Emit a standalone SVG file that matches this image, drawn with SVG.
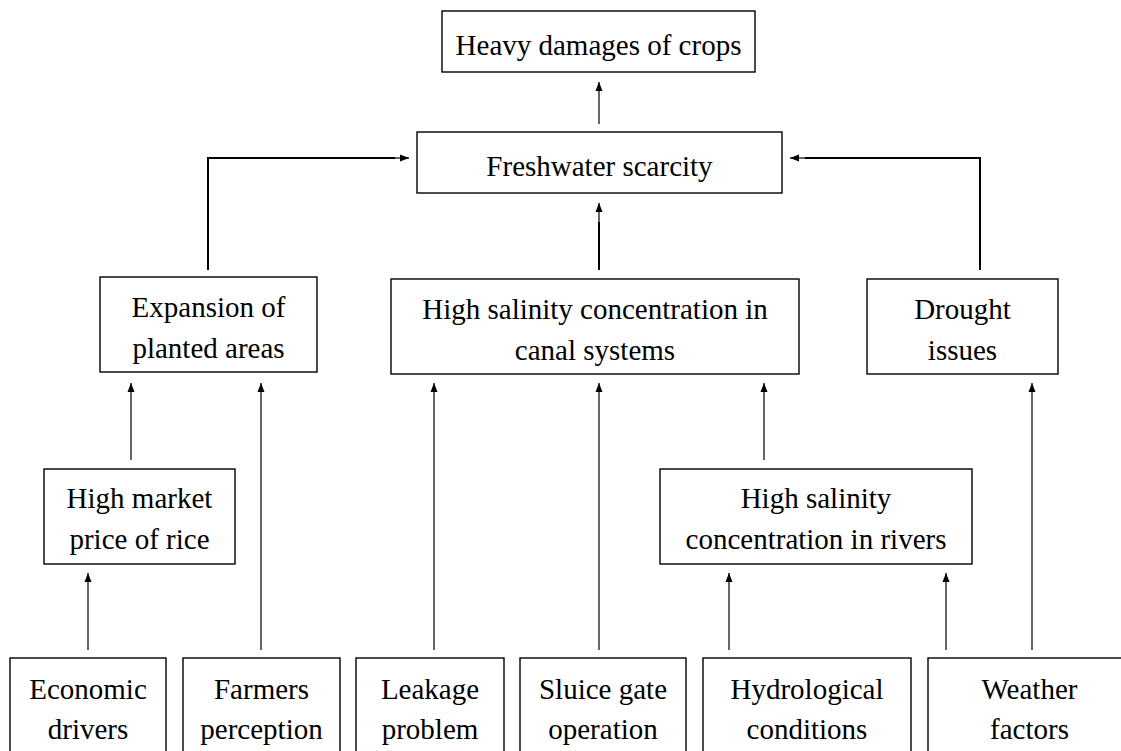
<svg xmlns="http://www.w3.org/2000/svg" width="1121" height="751" viewBox="0 0 1121 751">
<style>
.box{fill:#fff;stroke:#000;stroke-width:1.4}
text{font-family:"Liberation Serif","Times New Roman",serif;font-size:29px;fill:#000;text-anchor:middle}
.arr{stroke:#000;stroke-width:1.2;fill:none;marker-end:url(#ah)}
.elb{stroke:#000;stroke-width:2;fill:none}
</style>
<defs>
<marker id="ah" markerUnits="userSpaceOnUse" markerWidth="10" markerHeight="10" viewBox="0 0 10 10" refX="9" refY="5" orient="auto">
<path d="M0,1.5 L9,5 L0,8.5 Z" fill="#000"/>
</marker>
</defs>
<rect width="1121" height="751" fill="#fff"/>
<g id="connectors">
<line class="arr" x1="599" y1="124" x2="599" y2="82"/>
<line class="elb" x1="599" y1="270" x2="599" y2="222"/>
<line class="arr" x1="599" y1="223" x2="599" y2="203"/>
<polyline class="elb" points="208,270 208,158 395,158"/>
<line class="arr" x1="394" y1="158" x2="409" y2="158"/>
<polyline class="elb" points="980,270 980,158 805,158"/>
<line class="arr" x1="806" y1="158" x2="790" y2="158"/>
<line class="arr" x1="131" y1="460" x2="131" y2="383"/>
<line class="arr" x1="261" y1="650" x2="261" y2="383"/>
<line class="arr" x1="434" y1="650" x2="434" y2="383"/>
<line class="arr" x1="599" y1="650" x2="599" y2="383"/>
<line class="arr" x1="764" y1="460" x2="764" y2="383"/>
<line class="arr" x1="1032" y1="650" x2="1032" y2="383"/>
<line class="arr" x1="88" y1="650" x2="88" y2="573"/>
<line class="arr" x1="729" y1="650" x2="729" y2="573"/>
<line class="arr" x1="946" y1="650" x2="946" y2="573"/>
</g>
<g id="heavy"><rect class="box" x="442" y="11" width="313" height="61"/><text x="598.5" y="55">Heavy damages of crops</text></g>
<g id="freshwater"><rect class="box" x="417" y="132" width="365" height="61"/><text x="599.5" y="176">Freshwater scarcity</text></g>
<g id="expansion"><rect class="box" x="100" y="277" width="217" height="95"/><text x="208.5" y="317">Expansion of</text><text x="208.5" y="358">planted areas</text></g>
<g id="canal"><rect class="box" x="391" y="279" width="408" height="95"/><text x="595" y="319">High salinity concentration in</text><text x="595" y="360">canal systems</text></g>
<g id="drought"><rect class="box" x="867" y="279" width="191" height="95"/><text x="962.5" y="319">Drought</text><text x="962.5" y="360">issues</text></g>
<g id="market"><rect class="box" x="44" y="469" width="191" height="95"/><text x="139.5" y="508">High market</text><text x="139.5" y="549">price of rice</text></g>
<g id="rivers"><rect class="box" x="660" y="469" width="312" height="95"/><text x="816" y="508">High salinity</text><text x="816" y="549">concentration in rivers</text></g>
<g id="economic"><rect class="box" x="10" y="658" width="156" height="110"/><text x="88" y="699">Economic</text><text x="88" y="739">drivers</text></g>
<g id="farmers"><rect class="box" x="183" y="658" width="157" height="110"/><text x="261.5" y="699">Farmers</text><text x="261.5" y="739">perception</text></g>
<g id="leakage"><rect class="box" x="356" y="658" width="148" height="110"/><text x="430" y="699">Leakage</text><text x="430" y="739">problem</text></g>
<g id="sluice"><rect class="box" x="520" y="658" width="166" height="110"/><text x="603" y="699">Sluice gate</text><text x="603" y="739">operation</text></g>
<g id="hydrological"><rect class="box" x="703" y="658" width="208" height="110"/><text x="807" y="699">Hydrological</text><text x="807" y="739">conditions</text></g>
<g id="weather"><rect class="box" x="928" y="658" width="210" height="110"/><text x="1029.5" y="699">Weather</text><text x="1029.5" y="739">factors</text></g>
</svg>
